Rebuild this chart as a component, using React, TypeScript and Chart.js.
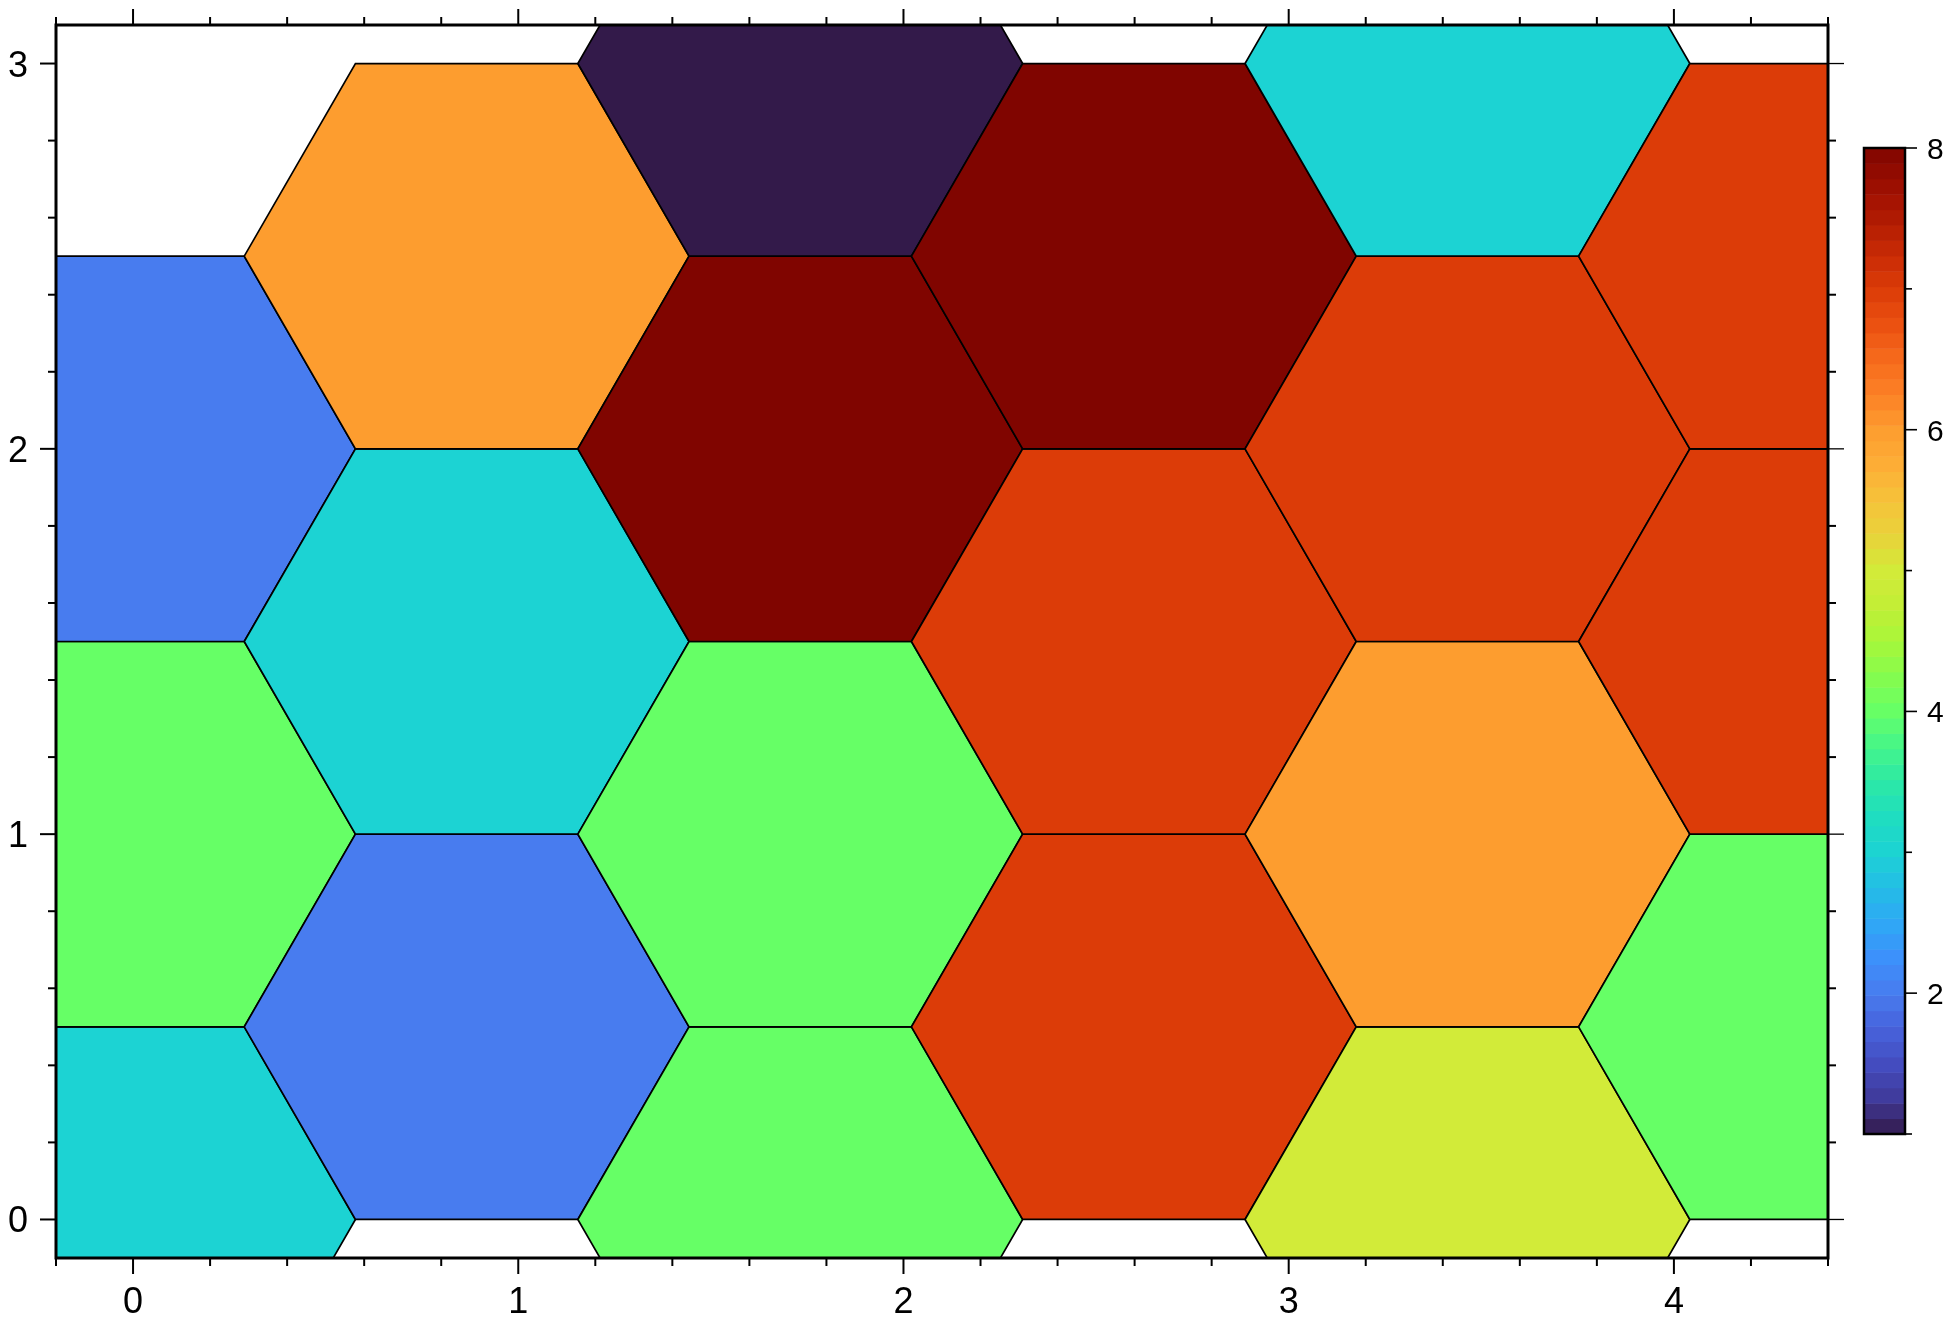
import React, { useEffect, useRef } from 'react';
import { Chart, registerables } from 'chart.js';

Chart.register(...registerables);

// ---- data: hexbin cell centres and counts ----
const hexCenterX = [0, 0, 0, 0.866, 0.866, 0.866, 1.732, 1.732, 1.732, 1.732, 2.598, 2.598, 2.598, 3.464, 3.464, 3.464, 3.464, 4.33, 4.33, 4.33];
const hexCenterY = [0, 1, 2, 0.5, 1.5, 2.5, 0, 1, 2, 3, 0.5, 1.5, 2.5, 0, 1, 2, 3, 0.5, 1.5, 2.5];
const hexValue = [3, 4, 2, 2, 3, 6, 4, 4, 8, 1, 7, 7, 8, 5, 6, 7, 3, 4, 7, 7];

// ---- axes ----
const xMajorTicks = [0, 1, 2, 3, 4];
const xMinorTicks = [-0.2, 0.2, 0.4, 0.6, 0.8, 1.2, 1.4, 1.6, 1.8, 2.2, 2.4, 2.6, 2.8, 3.2, 3.4, 3.6, 3.8, 4.2, 4.4];
const yMajorTicks = [0, 1, 2, 3];
const yMinorTicks = [0.2, 0.4, 0.6, 0.8, 1.2, 1.4, 1.6, 1.8, 2.2, 2.4, 2.6, 2.8];
const xRange = [-0.2, 4.4];
const yRange = [-0.1, 3.1];

// ---- colour bar ----
const cbRange = [1, 8];
const cbTicks = [1, 2, 3, 4, 5, 6, 7, 8];
const cbLabels = [2, 4, 6, 8];
const cbSlices = 64;

// ---- styles ----
const HEX_R = 0.57735; // hexagon circumradius in x units
const HEX_H = 1.0; // hexagon height in y units
const FONT = '"Liberation Sans", Arial, Helvetica, sans-serif';
const cmapStops: [number, string][] = [
  [1.0, '#331a4a'], [1.25, '#403a9a'], [1.5, '#444dc0'], [1.75, '#4762db'],
  [2.0, '#487cef'], [2.25, '#3c90fb'], [2.5, '#2fa8f5'], [2.75, '#24bde6'],
  [3.0, '#1cd3d3'], [3.25, '#1fddc0'], [3.5, '#2ce9a6'], [3.75, '#45f58a'],
  [4.0, '#66ff66'], [4.25, '#85fc4e'], [4.5, '#a8f73a'], [4.75, '#c2ee36'],
  [5.0, '#d2eb39'], [5.25, '#e9d23a'], [5.5, '#f6c23a'], [5.75, '#fdae36'],
  [6.0, '#fd9d2f'], [6.25, '#fc8126'], [6.5, '#f66a1c'], [6.75, '#eb5011'],
  [7.0, '#dc3c08'], [7.25, '#c82a05'], [7.5, '#b01a02'], [7.75, '#9a0e01'],
  [8.0, '#800500'],
];

function hexToRgb(h: string) {
  const n = parseInt(h.slice(1), 16);
  return [(n >> 16) & 255, (n >> 8) & 255, n & 255];
}

function colorFor(v: number) {
  if (v <= cmapStops[0][0]) return cmapStops[0][1];
  for (let i = 1; i < cmapStops.length; i++) {
    const [v1, c1] = cmapStops[i];
    if (v <= v1) {
      const [v0, c0] = cmapStops[i - 1];
      const t = (v - v0) / (v1 - v0);
      const a = hexToRgb(c0);
      const b = hexToRgb(c1);
      const m = a.map((x, k) => Math.round(x + (b[k] - x) * t));
      return `rgb(${m[0]},${m[1]},${m[2]})`;
    }
  }
  return cmapStops[cmapStops.length - 1][1];
}

const hexPlugin = {
  id: 'hexbins',
  beforeDatasetsDraw(chart: any) {
    const { ctx, chartArea } = chart;
    const xs = chart.scales.x;
    const ys = chart.scales.y;
    const pts = chart.data.datasets[0].data as any[];
    ctx.save();
    ctx.beginPath();
    ctx.rect(chartArea.left, chartArea.top, chartArea.right - chartArea.left, chartArea.bottom - chartArea.top);
    ctx.clip();
    const corners = [
      [HEX_R, 0], [HEX_R / 2, HEX_H / 2], [-HEX_R / 2, HEX_H / 2],
      [-HEX_R, 0], [-HEX_R / 2, -HEX_H / 2], [HEX_R / 2, -HEX_H / 2],
    ];
    pts.forEach((p) => {
      ctx.beginPath();
      corners.forEach(([dx, dy], i) => {
        const px = xs.getPixelForValue(p.x + dx);
        const py = ys.getPixelForValue(p.y + dy);
        if (i === 0) ctx.moveTo(px, py);
        else ctx.lineTo(px, py);
      });
      ctx.closePath();
      ctx.fillStyle = colorFor(p.v);
      ctx.fill();
      ctx.lineWidth = 1.7;
      ctx.strokeStyle = '#000';
      ctx.lineJoin = 'miter';
      ctx.stroke();
    });
    ctx.restore();
  },
  afterDraw(chart: any) {
    const { ctx, chartArea } = chart;
    const xs = chart.scales.x;
    const ys = chart.scales.y;
    const { left, right, top, bottom } = chartArea;
    ctx.save();
    ctx.strokeStyle = '#000';
    ctx.lineCap = 'butt';
    const MAJ = 16;
    const MIN = 8;
    const line = (x1: number, y1: number, x2: number, y2: number, w: number) => {
      ctx.lineWidth = w;
      ctx.beginPath();
      ctx.moveTo(x1, y1);
      ctx.lineTo(x2, y2);
      ctx.stroke();
    };
    // x ticks (bottom + top)
    xMajorTicks.forEach((v) => {
      const px = xs.getPixelForValue(v);
      line(px, bottom, px, bottom + MAJ, 2);
      line(px, top, px, top - MAJ, 2);
    });
    xMinorTicks.forEach((v) => {
      const px = xs.getPixelForValue(v);
      line(px, bottom, px, bottom + MIN, 2);
      line(px, top, px, top - MIN, 2);
    });
    // y ticks (left + right)
    yMajorTicks.forEach((v) => {
      const py = ys.getPixelForValue(v);
      line(left, py, left - MAJ, py, 2);
      line(right, py, right + MAJ, py, 1.3);
    });
    yMinorTicks.forEach((v) => {
      const py = ys.getPixelForValue(v);
      line(left, py, left - MIN, py, 2);
      line(right, py, right + MIN, py, 2);
    });
    // frame
    ctx.lineWidth = 3;
    ctx.lineJoin = 'miter';
    ctx.strokeRect(left, top, right - left, bottom - top);

    // labels
    ctx.fillStyle = '#000';
    ctx.font = `36px ${FONT}`;
    ctx.textAlign = 'center';
    ctx.textBaseline = 'alphabetic';
    xMajorTicks.forEach((v) => {
      ctx.fillText(String(v), xs.getPixelForValue(v), bottom + 55);
    });
    ctx.textAlign = 'right';
    yMajorTicks.forEach((v) => {
      ctx.fillText(String(v), left - 28, ys.getPixelForValue(v) + 13);
    });

    // colour bar
    const cbL = 1864, cbR = 1905, cbT = 148, cbB = 1134;
    const cbPix = (v: number) => cbB - ((v - cbRange[0]) / (cbRange[1] - cbRange[0])) * (cbB - cbT);
    const step = (cbRange[1] - cbRange[0]) / cbSlices;
    for (let i = 0; i < cbSlices; i++) {
      const v0 = cbRange[0] + i * step;
      const y0 = cbPix(v0);
      const y1 = cbPix(v0 + step);
      ctx.fillStyle = colorFor(v0 + step / 2);
      ctx.fillRect(cbL, y1, cbR - cbL, y0 - y1 + 0.5);
    }
    ctx.strokeStyle = '#000';
    ctx.lineWidth = 2.5;
    ctx.strokeRect(cbL, cbT, cbR - cbL, cbB - cbT);
    cbTicks.forEach((v) => {
      const py = cbPix(v);
      const major = cbLabels.includes(v);
      line(cbR, py, cbR + (major ? 12 : 7), py, 1.6);
    });
    ctx.fillStyle = '#000';
    ctx.font = `30px ${FONT}`;
    ctx.textAlign = 'left';
    cbLabels.forEach((v) => {
      ctx.fillText(String(v), cbR + 22, cbPix(v) + 11);
    });
    ctx.restore();
  },
};

export default function App() {
  const ref = useRef<HTMLCanvasElement>(null);
  useEffect(() => {
    if (!ref.current) return;
    const data = hexCenterX.map((x, i) => ({ x, y: hexCenterY[i], v: hexValue[i] }));
    const chart = new Chart(ref.current, {
      type: 'scatter',
      data: { datasets: [{ data, pointRadius: 0, pointHoverRadius: 0 }] },
      options: {
        animation: false,
        responsive: false,
        devicePixelRatio: 1,
        layout: { padding: { left: 56, top: 25, right: 123, bottom: 65 } },
        plugins: { legend: { display: false }, tooltip: { enabled: false } },
        events: [],
        scales: {
          x: { type: 'linear', min: xRange[0], max: xRange[1], display: false },
          y: { type: 'linear', min: yRange[0], max: yRange[1], display: false },
        },
      },
      plugins: [hexPlugin],
    } as any);
    return () => chart.destroy();
  }, []);
  return (
    <div style={{ position: 'absolute', left: 0, top: 0, width: 1951, height: 1323, background: '#fff' }}>
      <canvas ref={ref} width={1951} height={1323} style={{ width: 1951, height: 1323, display: 'block' }} />
    </div>
  );
}
